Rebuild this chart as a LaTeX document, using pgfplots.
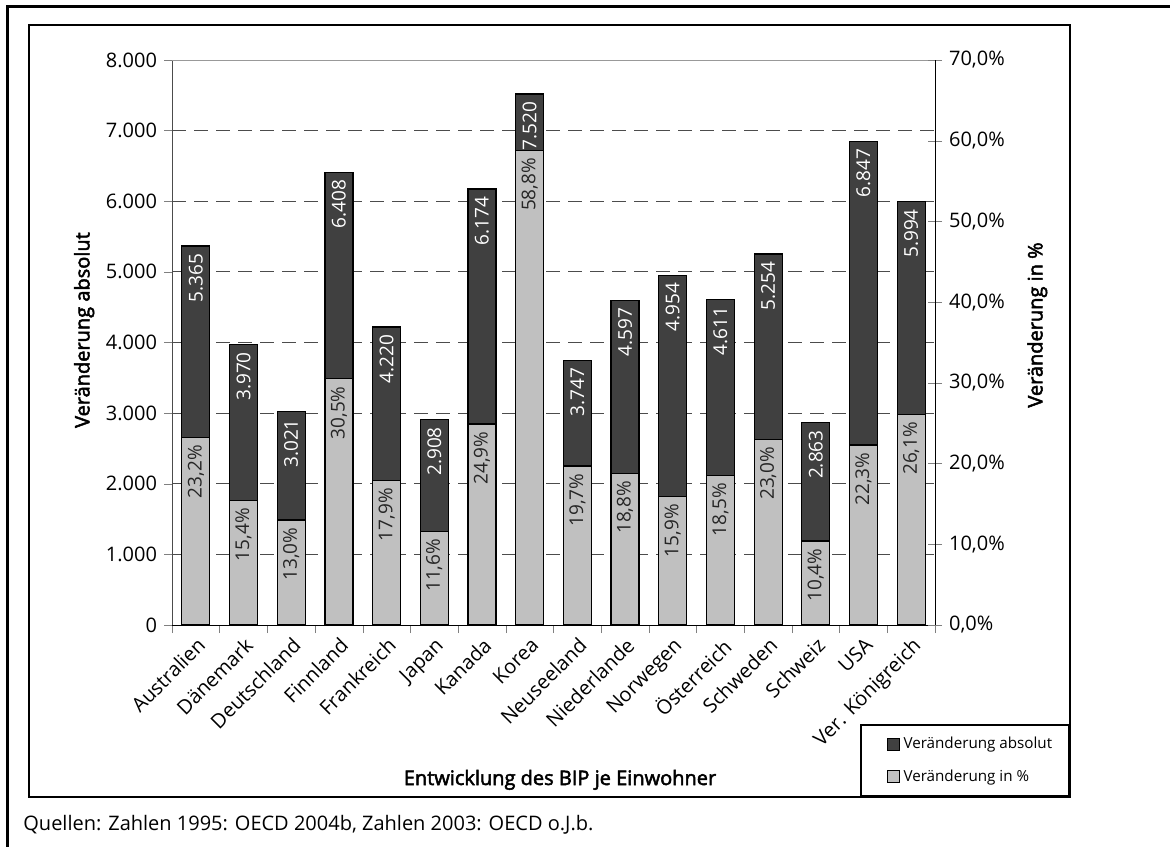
\documentclass[border=0pt]{standalone}
\usepackage{fontspec}
\setmainfont{Open Sans}[BoldFont={Open Sans}, BoldFeatures={FakeBold=2.5}]
\usepackage{pgfplots}
\usepackage{pgfplotstable}
\pgfplotsset{compat=1.18}
\definecolor{darkbar}{HTML}{404040}
\definecolor{lightbar}{HTML}{C0C0C0}

% Veraenderung absolut (linke Achse) und in % (rechte Achse)
\pgfplotstableread{
x abs pct
1  5365 23.2
2  3970 15.4
3  3021 13.0
4  6408 30.5
5  4220 17.9
6  2908 11.6
7  6174 24.9
8  7520 58.8
9  3747 19.7
10 4597 18.8
11 4954 15.9
12 4611 18.5
13 5254 23.0
14 2863 10.4
15 6847 22.3
16 5994 26.1
}\bipdata

\pgfplotsset{
  base/.style={
    scale only axis, width=381.5pt, height=282.5pt,
    at={(86pt,110.5pt)}, anchor=south west,
    xmin=0.5, xmax=16.5,
    ybar, bar width=14pt,
    /pgf/number format/assume math mode=true,
    tick label style={font=\fontsize{10}{12}\selectfont},
  },
}

\begin{document}
\begin{tikzpicture}
\useasboundingbox (0,0) rectangle (585pt,423pt);
\draw[line width=1.5pt] (3.5pt,-5pt) -- (3.5pt,419.5pt) -- (600pt,419.5pt);
\draw[line width=1pt] (14.5pt,24.5pt) rectangle (535pt,410.5pt);
\node[anchor=west, font=\fontsize{10}{12}\selectfont, inner sep=0pt] at (11.5pt,10.5pt)
  {Quellen: Zahlen 1995: OECD 2004b, Zahlen 2003: OECD o.J.b.};

\begin{axis}[
    base,
    ymin=0, ymax=8000,
    ytick={0,1000,...,8000},
    scaled y ticks=false,
    yticklabel={\pgfmathprintnumber[1000 sep={.}]{\tick}},
    axis x line*=bottom, axis y line*=left,
    y axis line style={black!70},
    tick align=outside,
    major tick length=4pt, minor tick length=4pt,
    xtick={1,...,16},
    xticklabels={Australien, Dänemark, Deutschland, Finnland, Frankreich, Japan, Kanada, Korea, Neuseeland, Niederlande, Norwegen, Österreich, Schweden, Schweiz, USA, Ver. Königreich},
    major x tick style={draw=none},
    minor xtick={0.5,1.5,...,16.5},
    xticklabel style={rotate=45, anchor=north east, inner sep=1pt},
    ymajorgrids,
    grid style={black!70, dash pattern=on 7pt off 4pt, line width=0.5pt},
    every axis y label/.style={at={(axis description cs:-0.115,0.522)}, rotate=90, anchor=center,
      font=\bfseries\fontsize{10}{12}\selectfont},
    every axis x label/.style={at={(axis description cs:0.5085,-0.274)}, anchor=center,
      font=\bfseries\fontsize{10}{12}\selectfont},
    ylabel={Veränderung absolut},
    xlabel={Entwicklung des BIP je Einwohner},
    nodes near coords={\pgfmathprintnumber[1000 sep={.}]{\pgfplotspointmeta}},
    every node near coord/.append style={rotate=90, anchor=east, text=white,
      inner xsep=3.5pt, font=\fontsize{9.5}{11}\selectfont},
]
\addplot[fill=darkbar, draw=black, line width=0.6pt] table[x=x, y=abs] {\bipdata};
\draw[black!40, line width=0.8pt] (rel axis cs:0,1) -- (rel axis cs:1,1);
\end{axis}

\begin{axis}[
    base,
    ymin=0, ymax=70,
    ytick={0,10,...,70},
    yticklabel={\pgfmathprintnumber[fixed, fixed zerofill, precision=1, dec sep={,}]{\tick}\%},
    axis y line*=right, axis x line=none,
    xtick=\empty,
    tick align=center, major tick length=7pt,
    every axis y label/.style={at={(axis description cs:1.134,0.531)}, rotate=90, anchor=center,
      font=\bfseries\fontsize{10}{12}\selectfont},
    ylabel={Veränderung in \%},
    nodes near coords={\pgfmathprintnumber[fixed, fixed zerofill, precision=1, dec sep={,}]{\pgfplotspointmeta}\%},
    every node near coord/.append style={rotate=90, anchor=east, text=black!85,
      inner xsep=3.5pt, font=\fontsize{9.5}{11}\selectfont},
    legend image code/.code={\path (0pt,0pt); \draw[#1, line width=0.5pt] (6pt,-3pt) rectangle (12pt,3pt);},
    legend cell align=left,
    legend style={at={(axis description cs:1.1769,-0.3044)}, anchor=south east,
      draw=black, line width=0.8pt, font=\fontsize{7.6}{9}\selectfont,
      inner xsep=6.5pt, inner ysep=4pt, row sep=5pt},
]
\addlegendimage{fill=darkbar, draw=black}
\addplot[fill=lightbar, draw=black, line width=0.6pt] table[x=x, y=pct] {\bipdata};
\legend{Veränderung absolut, Veränderung in \%}
\end{axis}
\end{tikzpicture}
\end{document}
